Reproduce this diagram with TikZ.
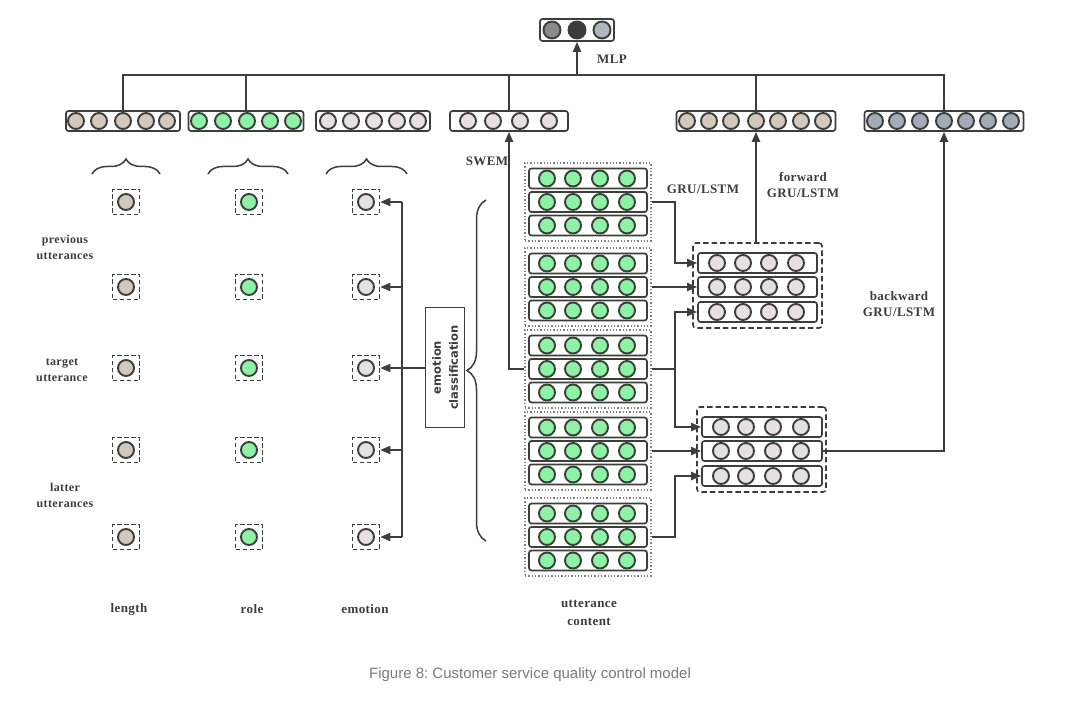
\documentclass[tikz,border=0pt]{standalone}
\usepackage{fontspec}
\setmainfont{Liberation Serif}
\newfontfamily\lblfont[LetterSpace=3]{Liberation Serif}
\newfontfamily\capfont{Liberation Sans}
\newfontfamily\ecfont{DejaVu Sans}
\usetikzlibrary{arrows.meta,decorations.pathreplacing,calc}
\frenchspacing

\definecolor{lc}{HTML}{3A3F3A}
\definecolor{tanc}{HTML}{D3C8BB}
\definecolor{grnc}{HTML}{8EF2A6}
\definecolor{lgc}{HTML}{E6E0DE}
\definecolor{bgc}{HTML}{A3ACB6}
\definecolor{capc}{HTML}{7A7A7A}
\definecolor{mone}{HTML}{8A8C8A}
\definecolor{mtwo}{HTML}{3A3D3A}
\definecolor{mthree}{HTML}{AEB6C2}

\tikzset{
 line/.style={draw=lc, line width=2pt},
 arr/.style={line, -{Triangle[length=10pt,width=8pt]}},
 vecbox/.style={draw=lc, line width=1.7pt, rounded corners=2.5pt, minimum height=20, inner sep=0},
 cell/.style={circle, draw=lc, line width=1.9pt, minimum size=16, inner sep=0},
 dsq/.style={draw=lc, dash pattern=on 4.5pt off 2.5pt, line width=1.6pt, minimum width=27, minimum height=25, inner sep=0},
 grp/.style={draw=gray, dotted, line width=1.3pt, inner sep=0},
 gbox/.style={draw=lc, dash pattern=on 5.5pt off 3pt, rounded corners=3pt, line width=1.6pt, inner sep=0},
 lbl/.style={font=\lblfont\bfseries\fontsize{13}{16}\selectfont, text=lc, align=center, inner sep=0},
 rlbl/.style={font=\lblfont\bfseries\fontsize{12}{16}\selectfont, text=lc, align=center, inner sep=0},
 brc/.style={line, line width=1.5pt, decorate, decoration={brace, amplitude=#1}},
}

\begin{document}
\begin{tikzpicture}[x=1pt,y=-1pt]
\fill[white] (0,0) rectangle (1065,719);
\useasboundingbox (0,0) rectangle (1065,719);

% MLP output
\node[vecbox, minimum width=74, minimum height=22] (mlp) at (577,30) {};
\node[cell, fill=mone, minimum size=17] (mlp1) at (552,30) {};
\node[cell, fill=mtwo, minimum size=17] (mlp2) at (577,30) {};
\node[cell, fill=mthree, minimum size=17] (mlp3) at (602,30) {};
\node[lbl] (mlpl) at (612,59) {MLP};

% top vectors
\node[vecbox, minimum width=114] (lenv) at (123,121) {};
\foreach \x [count=\i] in {76,99,123,146,167} \node[cell, fill=tanc] (lenv\i) at (\x,121) {};
\node[vecbox, minimum width=115] (rolv) at (246,121) {};
\foreach \x [count=\i] in {199,223,247,270,293} \node[cell, fill=grnc] (rolv\i) at (\x,121) {};
\node[vecbox, minimum width=114] (emov) at (373,121) {};
\foreach \x [count=\i] in {328,351,374,397,418} \node[cell, fill=lgc] (emov\i) at (\x,121) {};
\node[vecbox, minimum width=118] (swv) at (509,121) {};
\foreach \x [count=\i] in {468,493,520,549} \node[cell, fill=lgc] (swv\i) at (\x,121) {};
\node[vecbox, minimum width=159] (fv) at (756,121) {};
\foreach \x [count=\i] in {687,709,731,756,778,801,823} \node[cell, fill=tanc] (fv\i) at (\x,121) {};
\node[vecbox, minimum width=159] (bwv) at (944,121) {};
\foreach \x [count=\i] in {875,897,920,944,966,988,1011} \node[cell, fill=bgc] (bwv\i) at (\x,121) {};

% bus
\coordinate (busR) at (944,75);
\draw[line] (lenv.north) |- (busR) -- (bwv.north);
\draw[line] (rolv.north) -- (rolv.north |- busR);
\draw[line] (swv.north) -- (swv.north |- busR);
\draw[line] (fv.north) -- (fv.north |- busR);
\draw[arr] (mlp.south |- busR) -- (mlp.south);

% braces
\draw[brc=15pt] (92,174) -- (160,174);
\draw[brc=15pt] (208,174) -- (288,174);
\draw[brc=15pt] (326,174) -- (407,174);
\draw[brc=19pt] (486,541) -- (486,200);

% feature cells
\foreach \y [count=\r] in {202,287,368,450,537} {
  \node[dsq] (sl\r) at (126,\y) {};
  \node[cell, fill=tanc] (cl\r) at (126,\y) {};
  \node[dsq] (sr\r) at (249,\y) {};
  \node[cell, fill=grnc] (cr\r) at (249,\y) {};
  \node[dsq] (se\r) at (366,\y) {};
  \node[cell, fill=lgc] (ce\r) at (366,\y) {};
}

% emotion classification
\coordinate (ex) at (402,0);
\node[draw=lc, line width=1.5pt, minimum width=39, minimum height=120, inner sep=0] (ecls) at (445,367.5) {};
\node[rotate=90, font=\ecfont\bfseries\fontsize{11.5}{17}\selectfont, text=lc, align=center, inner sep=0] (eclt) at (ecls.center) {emotion\\classification};
\draw[line] (se1.east -| ex) -- (se5.east -| ex);
\foreach \r in {1,...,5} \draw[arr] (se\r.east -| ex) -- (se\r.east);
\draw[line] (ecls.west) -- (ecls.west -| ex);

% utterance content groups
\foreach \c [count=\g] in {202,287,369,451,537} {
  \node[grp, minimum width=126, minimum height=78] (g\g) at (588,\c) {};
  \foreach \dy [count=\r] in {-23.5,0,23.5} {
    \node[vecbox, minimum width=118] (g\g-\r) at (588,\c+\dy) {};
    \foreach \x [count=\k] in {547,573,600,627}
      \node[cell, fill=grnc] (g\g-\r-\k) at (\x,\c+\dy) {};
  }
}

% forward GRU box
\node[gbox, minimum width=129, minimum height=85] (fbox) at (757.5,285.5) {};
\foreach \y [count=\r] in {263,287,312} {
  \node[vecbox, minimum width=119] (fr\r) at (757.5,\y) {};
  \foreach \x [count=\k] in {717,743,769,796}
    \node[cell, fill=lgc] (fr\r-\k) at (\x,\y) {};
}
% backward GRU box
\node[gbox, minimum width=129, minimum height=85] (bbox) at (761.5,449.5) {};
\foreach \y [count=\r] in {427,451,476} {
  \node[vecbox, minimum width=120] (br\r) at (762,\y) {};
  \foreach \x [count=\k] in {721,746,773,801}
    \node[cell, fill=lgc] (br\r-\k) at (\x,\y) {};
}

% connectors to GRU
\coordinate (jx) at (675,0);
\draw[arr] (g1.east |- g1-2.east) -- (g1-2.east -| jx) |- (fr1.west);
\draw[arr] (g2.east |- g2-2.east) -- (fr2.west);
\draw[arr] (g3.east |- g3-2.east) -- (g3-2.east -| jx) |- (fr3.west);
\draw[arr] (g3-2.east -| jx) |- (br1.west);
\draw[arr] (g4.east |- g4-2.east) -- (br2.west);
\draw[arr] (g5.east |- g5-2.east) -- (g5-2.east -| jx) |- (br3.west);
\draw[arr] (g3.west |- g3-2.west) -| (swv.south);
\draw[arr] (fv.south |- fbox.north) -- (fv.south);
\draw[arr] (br2.east) -| (bwv.south);

% labels
\node[lbl] (swl) at (487,161) {SWEM};
\node[lbl] (grul) at (703,189) {GRU/LSTM};
\node[lbl] (fwl) at (803,185) {forward\\GRU/LSTM};
\node[lbl] (bwl) at (899,304) {backward\\GRU/LSTM};
\node[rlbl] (prl) at (65,247) {previous\\utterances};
\node[rlbl] (tgl) at (62,370) {target\\utterance};
\node[rlbl] (ltl) at (65,495) {latter\\utterances};
\node[lbl] (lenl) at (129,609) {length};
\node[lbl] (roll) at (252,609) {role};
\node[lbl] (emol) at (365,609) {emotion};
\node[lbl, font=\lblfont\bfseries\fontsize{13}{18}\selectfont] (ucl) at (589,613) {utterance\\content};
\node[font=\capfont\fontsize{15}{18}\selectfont, text=capc, inner sep=0] (cap) at (530,675) {Figure 8: Customer service quality control model};
\end{tikzpicture}
\end{document}
